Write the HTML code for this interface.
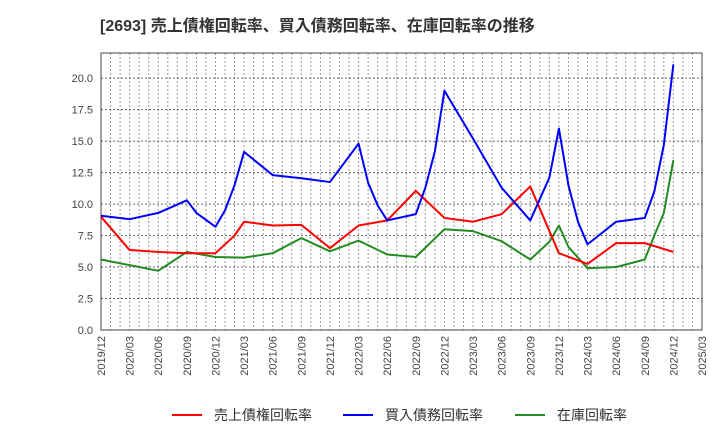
<!DOCTYPE html>
<html><head><meta charset="utf-8"><style>
body{margin:0;background:#fff;}
svg{display:block;font-family:"Liberation Sans","Noto Sans CJK JP",sans-serif;}
</style></head><body>
<svg id="chart" width="720" height="440" viewBox="0 0 720 440" xmlns="http://www.w3.org/2000/svg">
<text x="100" y="31" font-size="16" font-weight="bold" fill="#333">[2693]  売上債権回転率、買入債務回転率、在庫回転率の推移</text>
<g id="grid"></g><g id="axes"></g><g id="series"></g><g id="legend"></g>
</svg>
<script>
const tickLabels=["2019/12","2020/03","2020/06","2020/09","2020/12","2021/03","2021/06","2021/09","2021/12","2022/03","2022/06","2022/09","2022/12","2023/03","2023/06","2023/09","2023/12","2024/03","2024/06","2024/09","2024/12","2025/03"];
const yTicks=[0,2.5,5,7.5,10,12.5,15,17.5,20];
const redMonths=[0,3,6,9,12,14,15,18,21,24,27,30,33,36,39,42,45,48,51,52,54,57,60];
const redValues=[9.0,6.35,6.2,6.1,6.1,7.5,8.6,8.3,8.35,6.5,8.3,8.7,11.05,8.9,8.6,9.2,11.4,6.1,5.25,5.8,6.9,6.9,6.2];
const blueMonths=[0,3,6,9,10,12,13,14,15,18,21,24,27,28,29,30,33,34,35,36,39,42,45,47,48,49,50,51,54,57,58,59,60];
const blueValues=[9.07,8.8,9.3,10.3,9.3,8.2,9.5,11.5,14.15,12.3,12.05,11.75,14.8,11.7,9.9,8.7,9.2,11.3,14.2,19.0,15.2,11.3,8.7,12.1,16.0,11.5,8.6,6.8,8.6,8.9,11.0,14.7,21.1];
const greenMonths=[0,3,6,9,12,15,18,21,24,27,30,33,36,39,42,45,47,48,49,51,54,57,58,59,60];
const greenValues=[5.6,5.15,4.7,6.2,5.8,5.75,6.1,7.3,6.25,7.1,6.0,5.8,8.0,7.85,7.05,5.6,7.0,8.3,6.6,4.9,5.0,5.6,7.5,9.3,13.5];
const L=101,R=702,T=53,B=330,NM=63,YMAX=22;
const xs=m=>L+(R-L)*m/NM, ys=v=>B-(B-T)*v/YMAX;
const NS="http://www.w3.org/2000/svg";
function mk(tag,attrs,parent){const e=document.createElementNS(NS,tag);for(const k in attrs)e.setAttribute(k,attrs[k]);parent.appendChild(e);return e;}
const grid=document.getElementById('grid'),axes=document.getElementById('axes'),series=document.getElementById('series'),legend=document.getElementById('legend');
for(let m=1;m<NM;m++){const l=mk('line',{x1:xs(m),x2:xs(m),y1:T,y2:B,stroke:'#999','stroke-width':1,'stroke-dasharray':'2,2'},grid);

}
yTicks.forEach(v=>{if(v>0){const l=mk('line',{x1:L,x2:R,y1:ys(v),y2:ys(v),stroke:'#666','stroke-width':1,'stroke-dasharray':'2,2'},grid);

}
const t=mk('text',{x:L-8,y:ys(v)+4,'font-size':11,'text-anchor':'end',fill:'#444'},axes);t.textContent=v.toFixed(1);

});
tickLabels.forEach((s,i)=>{const x=xs(i*3);const t=mk('text',{x:x+4,y:B+6,'font-size':11,'text-anchor':'end',fill:'#444',transform:`rotate(-90 ${x+4} ${B+6})`},axes);t.textContent=s;

});
const frame=mk('rect',{x:L,y:T,width:R-L,height:B-T,fill:'none',stroke:'#444','stroke-width':1},axes);


function line(ms,vs,color,name){const p=mk('polyline',{points:ms.map((m,i)=>xs(m)+','+ys(vs[i])).join(' '),fill:'none',stroke:color,'stroke-width':2,'stroke-linejoin':'round'},series);

}
line(greenMonths,greenValues,'#228b22','inventory-turnover-line');
line(redMonths,redValues,'#ff0000','receivables-turnover-line');
line(blueMonths,blueValues,'#0000ff','payables-turnover-line');
const leg=[['売上債権回転率','#ff0000',172],['買入債務回転率','#0000ff',343],['在庫回転率','#228b22',515]];
leg.forEach(([s,c,x])=>{const g=mk('g',{},legend);


mk('line',{x1:x,x2:x+30,y1:415,y2:415,stroke:c,'stroke-width':2},g);
const t=mk('text',{x:x+42,y:420,'font-size':14,fill:'#333'},g);t.textContent=s;});
</script>
</body></html>
